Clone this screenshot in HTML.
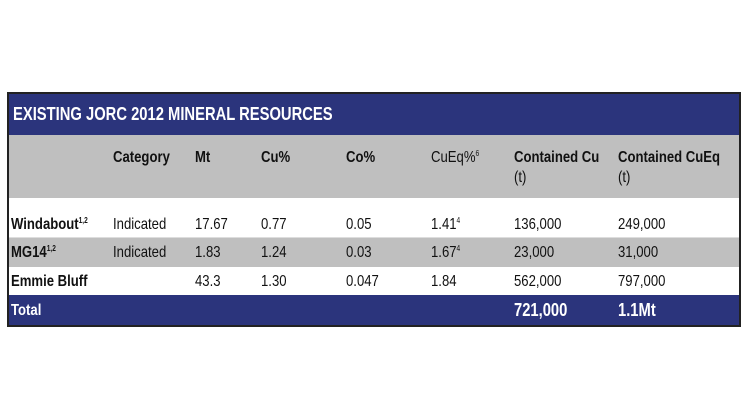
<!DOCTYPE html>
<html><head><meta charset="utf-8"><style>
body{margin:0;width:747px;height:420px;background:#fff;position:relative;overflow:hidden;font-family:"Liberation Sans",sans-serif;}
.box{position:absolute;left:7px;top:92px;width:730px;height:231px;border:2px solid #222;}
.band{position:absolute;left:9px;width:730px;}
.t{position:absolute;font-size:16px;color:#111;white-space:nowrap;line-height:18px;transform:scaleX(0.82);transform-origin:0 0;}
.b{font-weight:bold;}
.w{color:#fff;}
sup{font-size:8px;vertical-align:6px;line-height:0;}
</style></head><body>
<div class="band" style="top:94px;height:41px;background:#2b347c"></div>
<div class="band" style="top:135px;height:63px;background:#bfbfbf"></div>
<div class="band" style="top:198px;height:39px;background:#fff"></div>
<div class="band" style="top:237px;height:30px;background:#bfbfbf;border-top:1px solid #ddd"></div>
<div class="band" style="top:267px;height:28px;background:#fff"></div>
<div class="band" style="top:295px;height:30px;background:#2b347c"></div>
<div class="box"></div>

<div class="t b w" style="left:13px;top:105px;font-size:18px">EXISTING JORC 2012 MINERAL RESOURCES</div>

<div class="t b" style="left:113px;top:149px">Category</div>
<div class="t b" style="left:195px;top:149px">Mt</div>
<div class="t b" style="left:261px;top:149px">Cu%</div>
<div class="t b" style="left:346px;top:149px">Co%</div>
<div class="t" style="left:431px;top:149px">CuEq%<sup>6</sup></div>
<div class="t b" style="left:514px;top:149px">Contained Cu</div>
<div class="t" style="left:514px;top:169px">(t)</div>
<div class="t b" style="left:618px;top:149px">Contained CuEq</div>
<div class="t" style="left:618px;top:169px">(t)</div>

<div class="t b" style="left:11px;top:216px">Windabout<sup>1,2</sup></div>
<div class="t" style="left:113px;top:216px">Indicated</div>
<div class="t" style="left:195px;top:216px">17.67</div>
<div class="t" style="left:261px;top:216px">0.77</div>
<div class="t" style="left:346px;top:216px">0.05</div>
<div class="t" style="left:431px;top:216px">1.41<sup>4</sup></div>
<div class="t" style="left:514px;top:216px">136,000</div>
<div class="t" style="left:618px;top:216px">249,000</div>

<div class="t b" style="left:11px;top:244px">MG14<sup>1,2</sup></div>
<div class="t" style="left:113px;top:244px">Indicated</div>
<div class="t" style="left:195px;top:244px">1.83</div>
<div class="t" style="left:261px;top:244px">1.24</div>
<div class="t" style="left:346px;top:244px">0.03</div>
<div class="t" style="left:431px;top:244px">1.67<sup>4</sup></div>
<div class="t" style="left:514px;top:244px">23,000</div>
<div class="t" style="left:618px;top:244px">31,000</div>

<div class="t b" style="left:11px;top:273px">Emmie Bluff</div>
<div class="t" style="left:195px;top:273px">43.3</div>
<div class="t" style="left:261px;top:273px">1.30</div>
<div class="t" style="left:346px;top:273px">0.047</div>
<div class="t" style="left:431px;top:273px">1.84</div>
<div class="t" style="left:514px;top:273px">562,000</div>
<div class="t" style="left:618px;top:273px">797,000</div>

<div class="t b w" style="left:11px;top:302px">Total</div>
<div class="t b w" style="left:514px;top:301px;font-size:18px">721,000</div>
<div class="t b w" style="left:618px;top:301px;font-size:18px">1.1Mt</div>
</body></html>
